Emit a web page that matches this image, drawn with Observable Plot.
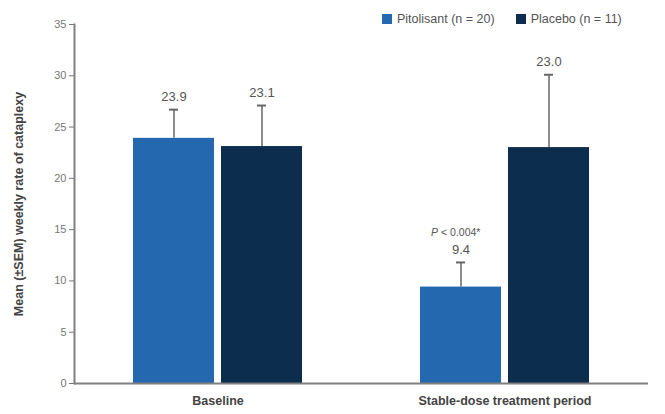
<!DOCTYPE html>
<html>
<head>
<meta charset="utf-8">
<script src="https://cdn.jsdelivr.net/npm/d3@7"></script>
<script src="https://cdn.jsdelivr.net/npm/@observablehq/plot@0.6"></script>
<style>
  html, body { margin: 0; padding: 0; background: #fff; }
  #wrap { position: relative; width: 665px; height: 414px; font-family: "Liberation Sans", Arial, sans-serif; }
  #legend { position: absolute; top: 12px; left: 382px; display: flex; align-items: center; font-size: 12.5px; color: #555; white-space: nowrap; }
  #legend .item { display: flex; align-items: center; margin-right: 21px; }
  #legend .sw { width: 10px; height: 10px; margin-right: 5px; }
  g[aria-label="y-axis label"] text, g[aria-label="y-axis label"] { font-weight: bold; fill: #444; font-size: 12.5px; }
  g[aria-label="fx-axis tick label"] text, g[aria-label="fx-axis tick label"] { font-weight: bold; fill: #444; font-size: 12.5px; }
  g[aria-label="y-axis tick label"] { fill: #777; }
  [aria-label="frame"], [aria-label="frame"] * { stroke: #808080; stroke-width: 2px; }
</style>
</head>
<body>
<div id="wrap"><div id="legend"></div></div>
<script>
const groups = ["Baseline", "Stable-dose treatment period"];
const treatments = ["Pitolisant (n = 20)", "Placebo (n = 11)"];
const colors = ["#2468b0", "#0c2d4d"];
const pitolisantMean = [23.9, 9.4];
const placeboMean = [23.1, 23.0];
const pitolisantSEM = [2.8, 2.4];
const placeboSEM = [4.0, 7.1];
const pitolisantLabels = ["23.9", "9.4"];
const placeboLabels = ["23.1", "23.0"];
const yTicks = [0, 5, 10, 15, 20, 25, 30, 35];
const yLabel = "Mean (\u00b1SEM) weekly rate of cataplexy";
const pNote = {group: "Stable-dose treatment period", treatment: "Pitolisant (n = 20)", p: "P", rest: "< 0.004*"};

const rows = [];
groups.forEach((g, i) => {
  rows.push({group: g, treatment: treatments[0], mean: pitolisantMean[i], sem: pitolisantSEM[i], label: pitolisantLabels[i]});
  rows.push({group: g, treatment: treatments[1], mean: placeboMean[i], sem: placeboSEM[i], label: placeboLabels[i]});
});
rows.forEach(r => r.top = r.mean + r.sem);
const noteRows = rows.filter(r => r.group === pNote.group && r.treatment === pNote.treatment);

const plot = Plot.plot({
  width: 665,
  height: 414,
  marginLeft: 74,
  marginRight: 17,
  marginTop: 24,
  marginBottom: 31,
  style: {fontFamily: "'Liberation Sans', Arial, sans-serif", fontSize: "11px", color: "#777", background: "#fff"},
  fx: {domain: groups, padding: 0, axis: "bottom", tickSize: 0, tickPadding: 13, label: null},
  x: {domain: treatments, paddingInner: 0.08, paddingOuter: 0.67, axis: null},
  y: {domain: [0, 35], ticks: yTicks, tickSize: 5, tickPadding: 3, line: true, label: yLabel, labelAnchor: "center", labelOffset: 60, labelArrow: "none"},
  color: {domain: treatments, range: colors},
  marks: [
    Plot.barY(rows, {fx: "group", x: "treatment", y: "mean", fill: "treatment"}),
    Plot.ruleX(rows, {fx: "group", x: "treatment", y1: "mean", y2: "top", stroke: "#666", strokeWidth: 1.5}),
    Plot.tickY(rows, {fx: "group", x: "treatment", y: "top", stroke: "#666", strokeWidth: 2, insetLeft: 36, insetRight: 36}),
    Plot.text(rows, {fx: "group", x: "treatment", y: "top", text: "label", dy: -12.5, fill: "#555", fontSize: 13}),
    Plot.text(noteRows, {fx: "group", x: "treatment", y: "top", text: () => pNote.p, dy: -30, dx: -30, textAnchor: "start", fontStyle: "italic", fill: "#555", fontSize: 10.5}),
    Plot.text(noteRows, {fx: "group", x: "treatment", y: "top", text: () => pNote.rest, dy: -30, dx: -20, textAnchor: "start", fill: "#555", fontSize: 10.5}),
    Plot.ruleY([0], {stroke: "#808080", strokeWidth: 2})
  ]
});
document.getElementById("wrap").appendChild(plot);

const legend = document.getElementById("legend");
treatments.forEach((t, i) => {
  const item = document.createElement("div");
  item.className = "item";
  const sw = document.createElement("span");
  sw.className = "sw";
  sw.style.background = colors[i];
  const lab = document.createElement("span");
  lab.textContent = t;
  item.appendChild(sw);
  item.appendChild(lab);
  legend.appendChild(item);
});
</script>
</body>
</html>
